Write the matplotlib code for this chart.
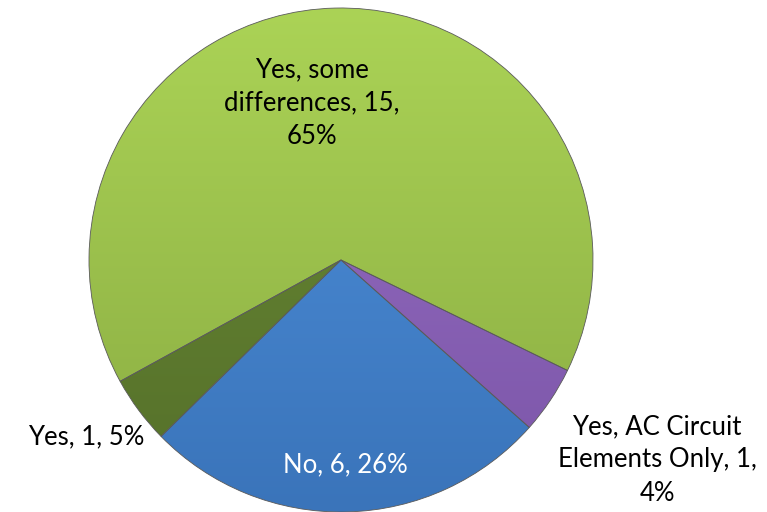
import numpy as np
import matplotlib
matplotlib.use("Agg")
import matplotlib.pyplot as plt
import matplotlib.colors as mcolors

# data, counter-clockwise from the right edge of the big slice
labels = ["Yes, some\ndifferences, 15,\n65%", "Yes, 1, 5%", "No, 6, 26%",
          "Yes, AC Circuit\nElements Only, 1,\n4%"]
counts = [15, 1, 6, 1]
top_cols = ["#abd356", "#6a8a35", "#4f91dc", "#9870c4"]
bot_cols = ["#8aac42", "#55702a", "#3a74ba", "#7b55a8"]

# label positions in pixels (x, y from top), text colours
label_xy = [(312, 103), (86, 437), (345, 465), (657, 460)]
label_col = ["black", "black", "white", "black"]

W, H = 767, 512
cx, cy, R = 341, 260, 252

plt.rcParams['font.family'] = ['Lato', 'DejaVu Sans']

fig = plt.figure(figsize=(W / 100, H / 100), dpi=100)
ax = fig.add_axes([0, 0, 1, 1])

wedges, _ = ax.pie(counts, startangle=-26, counterclock=True,
                   center=(cx, H - cy), radius=R, colors=top_cols,
                   wedgeprops=dict(edgecolor="#5a5a5a", linewidth=0.6))

# soft vertical gradient inside each slice
grad = np.linspace(0, 1, 256).reshape(-1, 1)
for w, c1, c2 in zip(wedges, top_cols, bot_cols):
    cmap = mcolors.LinearSegmentedColormap.from_list("g", [c2, c1])
    im = ax.imshow(grad, cmap=cmap, origin="lower", aspect="auto",
                   extent=(cx - R, cx + R, H - cy - R, H - cy + R), zorder=1.5)
    im.set_clip_path(w)
    w.set_facecolor("none")
    w.set_zorder(2)

for lab, (x, y), col in zip(labels, label_xy, label_col):
    ax.text(x, H - y, lab, ha="center", va="center", color=col,
            fontsize=18.5, linespacing=1.42, zorder=5)

ax.set_xlim(0, W)
ax.set_ylim(0, H)
ax.set_aspect("equal")
ax.axis("off")

fig.savefig("out.png", dpi=100)
